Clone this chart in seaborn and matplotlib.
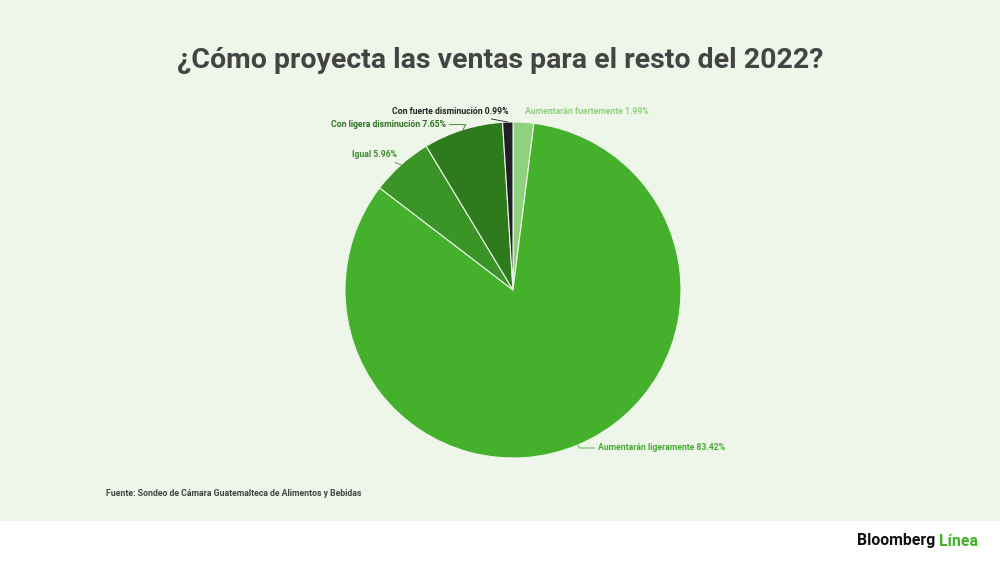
import numpy as np
import matplotlib
matplotlib.use("Agg")
import matplotlib.pyplot as plt
from matplotlib.patches import Rectangle
import seaborn as sns

# data (clockwise from 12 o'clock)
categorias = ["Aumentarán fuertemente", "Aumentarán ligeramente", "Igual",
              "Con ligera disminución", "Con fuerte disminución"]
porcentajes = [1.99, 83.42, 5.96, 7.65, 0.99]
colores = ["#8fd17c", "#44b02b", "#3a9426", "#2e7b1e", "#1f1f25"]
etiqueta_color = ["#8fd17c", "#47a833", "#3f8a30", "#2f7324", "#222222"]

titulo = "¿Cómo proyecta las ventas para el resto del 2022?"
fuente = "Fuente: Sondeo de Cámara Guatemalteca de Alimentos y Bebidas"

sns.set_theme(style="white")
plt.rcParams["font.family"] = ["Roboto", "DejaVu Sans"]

fig = plt.figure(figsize=(10, 5.62), dpi=100)
fig.patch.set_facecolor("white")
fig.patches.append(Rectangle((0, 1 - 521 / 562), 1, 521 / 562, transform=fig.transFigure,
                             facecolor="#eef6ea", edgecolor="none", zorder=-10))

ax = fig.add_axes([345 / 1000, (562 - 458) / 562, 336 / 1000, 336 / 562])
ax.set_facecolor("none")
wedges, _ = ax.pie(porcentajes, colors=colores, startangle=90, counterclock=False,
                   radius=1, wedgeprops=dict(edgecolor="#eef6ea", linewidth=0.8))
ax.set_xlim(-1, 1)
ax.set_ylim(-1, 1)
ax.set_aspect("equal")
ax.axis("off")

# label offsets (pixels), alignment and leader style per slice
offsets = [(2, 11), (20, -3), (-4, 10), (-17, 5), (1, 11)]
aligns = ["left", "left", "right", "right", "right"]
conexion = [None, "angle,angleA=0,angleB=-60,rad=0", "arc3,rad=0",
            "angle,angleA=0,angleB=60,rad=0", "arc3,rad=0"]

for w, cat, p, off, ha, col, con in zip(wedges, categorias, porcentajes, offsets,
                                        aligns, etiqueta_color, conexion):
    ang = np.deg2rad((w.theta1 + w.theta2) / 2)
    x, y = np.cos(ang), np.sin(ang)
    props = None
    if con:
        props = dict(arrowstyle="-", color=col, lw=0.6, shrinkA=0, shrinkB=0,
                     connectionstyle=con)
    ax.annotate(f"{cat} {p:.2f}%", xy=(x, y), xytext=off, textcoords="offset pixels",
                ha=ha, va="center", fontsize=6.2, fontweight="bold", color=col,
                arrowprops=props, annotation_clip=False)

fig.text(0.5, 1 - 60 / 562, titulo, ha="center", va="center", fontsize=20.5,
         fontweight="bold", color="#444444")
fig.text(106 / 1000, 1 - 493 / 562, fuente, ha="left", va="center", fontsize=6.3,
         fontweight="bold", color="#444444")

t = fig.text(857 / 1000, 1 - 541 / 562, "Bloomberg", ha="left", va="center",
             fontsize=11.4, fontweight="bold", color="#111111")
fig.canvas.draw()
bb = t.get_window_extent()
fig.text((bb.x1 + 4) / 1000, 1 - 541 / 562, "Línea", ha="left", va="center",
         fontsize=11.4, fontweight="bold", color="#44b02b")

fig.savefig("out.png", dpi=100, facecolor=fig.get_facecolor())
